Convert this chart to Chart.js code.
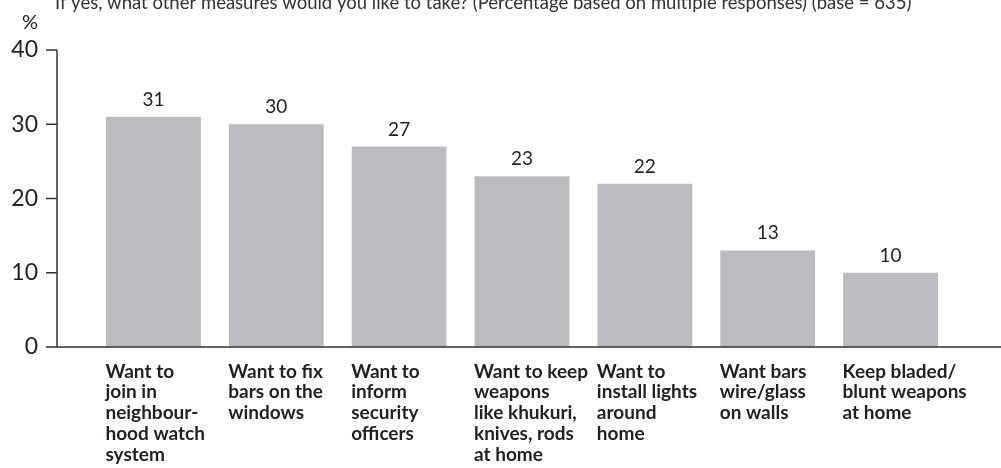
<!DOCTYPE html>
<html>
<head>
<meta charset="utf-8">
<script src="https://cdn.jsdelivr.net/npm/chart.js@4/dist/chart.umd.min.js"></script>
<style>
  html, body { margin: 0; padding: 0; background: #fff; }
  #wrap { width: 1001px; height: 468px; position: relative; }
</style>
</head>
<body>
<div id="wrap"><canvas id="barChart"></canvas></div>
<script>
// Data
const categories = [
  ["Want to", "join in", "neighbour-", "hood watch", "system"],
  ["Want to fix", "bars on the", "windows"],
  ["Want to", "inform", "security", "officers"],
  ["Want to keep", "weapons", "like khukuri,", "knives, rods", "at home"],
  ["Want to", "install lights", "around", "home"],
  ["Want bars", "wire/glass", "on walls"],
  ["Keep bladed/", "blunt weapons", "at home"]
];
const values = [31, 30, 27, 23, 22, 13, 10];
const yTicks = [0, 10, 20, 30, 40];
const titleText = "If yes, what other measures would you like to take? (Percentage based on multiple responses) (base = 635)";

const textColor = "#231f20";
const axisColor = "#333";

function noPadding(scale) {
  scale.paddingLeft = 0;
  scale.paddingRight = 0;
  scale.paddingTop = 0;
  scale.paddingBottom = 0;
}

// axis lines, value labels, title
const decorations = {
  id: "decorations",
  afterDraw(chart) {
    const ctx = chart.ctx;
    const area = chart.chartArea;
    const y = chart.scales.y;
    const axisX = area.left - 35;
    ctx.save();
    ctx.strokeStyle = axisColor;
    ctx.lineWidth = 1.5;
    ctx.beginPath();
    ctx.moveTo(axisX, y.getPixelForValue(40));
    ctx.lineTo(axisX, y.getPixelForValue(0));
    ctx.lineTo(chart.width, y.getPixelForValue(0));
    yTicks.forEach(t => {
      const py = y.getPixelForValue(t);
      ctx.moveTo(axisX - 11, py);
      ctx.lineTo(axisX, py);
    });
    ctx.stroke();

    // value labels
    ctx.fillStyle = textColor;
    ctx.font = "19px Lato";
    ctx.textAlign = "center";
    ctx.textBaseline = "alphabetic";
    chart.getDatasetMeta(0).data.forEach((bar, i) => {
      ctx.fillText(values[i], bar.x, bar.y - 11);
    });

    // "%" unit
    ctx.font = "20px Lato";
    ctx.fillText("%", 30, 29);

    // title
    ctx.textAlign = "left";
    ctx.fillStyle = "#333";
    ctx.font = "18.5px Lato";
    ctx.fillText(titleText, 55, 9);
    ctx.restore();
  }
};

const barChart = new Chart(document.getElementById("barChart"), {
  type: "bar",
  data: {
    labels: categories,
    datasets: [{
      data: values,
      backgroundColor: "#bbbcbf",
      barPercentage: 0.772,
      categoryPercentage: 1
    }]
  },
  options: {
    responsive: true,
    maintainAspectRatio: false,
    animation: false,
    layout: { padding: { top: 50, right: 49, bottom: 0, left: 0 } },
    plugins: {
      legend: { display: false },
      tooltip: { enabled: false }
    },
    scales: {
      x: {
        grid: { display: false, drawTicks: false },
        border: { display: false },
        afterFit(scale) { scale.height = 121; noPadding(scale); },
        ticks: {
          color: textColor,
          font: { family: "Lato", size: 19, weight: "bold", lineHeight: 1.1 },
          align: "start",
          labelOffset: -48,
          padding: 14,
          maxRotation: 0,
          autoSkip: false
        }
      },
      y: {
        min: 0,
        max: 40,
        grid: { display: false, drawTicks: false },
        border: { display: false },
        afterFit(scale) { scale.width = 92; noPadding(scale); },
        ticks: {
          stepSize: 10,
          color: textColor,
          font: { family: "Lato", size: 23 },
          padding: 54
        }
      }
    }
  },
  plugins: [decorations]
});
</script>
</body>
</html>
